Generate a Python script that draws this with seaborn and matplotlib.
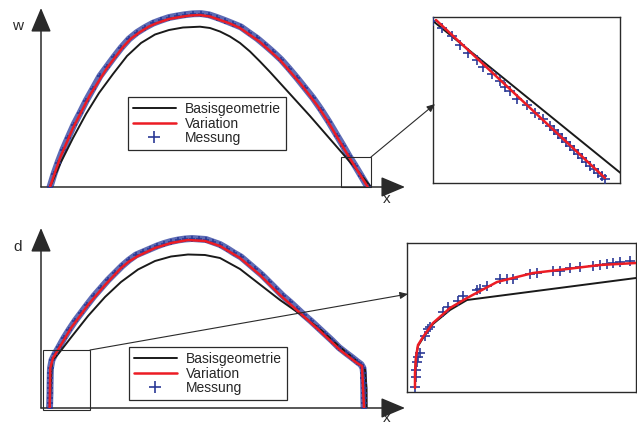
import matplotlib
matplotlib.use("Agg")
import matplotlib.pyplot as plt
from matplotlib.lines import Line2D
from matplotlib.patches import Rectangle, FancyArrowPatch
import seaborn as sns

# ---------------- data (arbitrary units) ----------------
# top panel: w(x)
top_base_x = [9, 20, 32, 45, 58, 72, 86, 100, 114, 128, 142, 159, 169, 179, 189, 199, 209, 219,
              229, 239, 249, 259, 269, 279, 289, 299, 309, 319, 330]
top_base_w = [0, 25, 49, 73, 94, 113, 131, 144, 152.5, 157, 159.5, 160.3, 159, 155.5, 150.5, 144,
              135.5, 125.5, 115, 104, 93, 82, 71, 59.5, 48, 36.5, 25, 13.5, 0]

top_var_x = [9, 19, 32, 49, 66, 82, 90, 99, 108, 116, 128, 139, 149, 159, 169, 179, 189, 199, 219,
             239, 259, 276, 286, 308, 326.8]
top_var_w = [0, 29, 59, 92, 119, 140, 148.5, 155, 160.5, 164, 168, 170, 171.5, 172, 170.5, 167,
             163.5, 159, 145, 127, 104, 82, 67, 30, 0]

top_mes_x = [9, 13, 17, 22, 27, 33, 39, 45, 52, 59, 66, 73, 80, 88, 96, 104, 112, 120, 128, 136,
             144, 152, 160, 168, 176, 184, 192, 200, 208, 216, 224, 232, 240, 248, 256, 264, 272,
             280, 288, 296, 302, 308, 314, 320, 326.8]
top_mes_w = [0, 13, 24.5, 37.5, 49, 62.5, 74, 86, 98.5, 111, 120.5, 130, 139, 148, 154.5, 159.5,
             163.8, 166.8, 169.5, 171, 172.3, 173.2, 173.4, 172.2, 169.5, 166.5, 163.3, 160, 154.3,
             148.7, 142, 135, 127.5, 118.5, 109, 99, 89, 77.5, 65, 51.5, 41.5, 31, 21.5, 11.5, 0]

# top detail (inset)
det1_base_x = [0, 190]
det1_base_w = [162, 8]
det1_var_x = [3, 172]
det1_var_w = [163, 5]
det1_mes_x = [0, 9, 19, 27, 35, 44, 50, 59, 67, 72, 77, 84, 94, 102, 110, 117, 121, 125, 129,
              133, 137, 141, 145, 149, 153, 157, 161, 165, 169, 172]
det1_mes_w = [162, 155, 147, 138.5, 130.5, 123.5, 116.5, 109.5, 102.5, 96.5, 92.5, 84.5, 78.5,
              70, 64, 57, 53.5, 49.5, 45.5, 41.5, 37.5, 33.5, 29.5, 25.5, 21.5, 17.5, 14.5, 10.5, 7, 4]

# bottom panel: d(x)
bot_base_x = [8.7, 10, 11, 18, 30, 47, 64, 80, 97, 114, 130, 147, 164, 179, 199, 219, 239, 259,
              279, 299, 316, 324, 325.5, 325.6]
bot_base_d = [0, 28, 47, 55, 70.5, 92, 111, 126, 138.5, 147, 151.5, 153.5, 153, 150, 139, 123.5,
              108, 94, 79, 61, 47, 38.5, 20, 0]

bot_var_x = [8.7, 9.3, 12, 17, 30, 47, 64, 80, 88, 97, 114, 130, 147, 164, 179, 199, 219, 239,
             259, 279, 299, 316, 321, 323]
bot_var_d = [0, 40, 50, 58, 80, 103, 123, 140, 146.5, 152, 160, 165, 168, 167, 162, 150, 133,
             113, 95, 77, 58, 45, 42, 0]

bot_mes_x = [8.5, 8.7, 8.8, 9, 9, 9.1, 9.2, 9.3, 9.5, 11, 14, 18, 23, 28, 34, 40, 46, 53, 60, 67,
             74, 81, 88, 95, 102, 109, 116, 123, 130, 137, 144, 151, 158, 165, 172, 179, 186, 193,
             200, 207, 214, 221, 228, 235, 242, 249, 256, 263, 270, 277, 284, 291, 298, 305, 311,
             316, 320, 322, 322.5, 322.5, 322.6, 322.7, 322.8, 322.8, 322.9, 323]
bot_mes_d = [0, 5, 10, 15, 20, 25, 30, 35, 40, 48, 54, 61, 70, 78, 87, 95, 103, 112, 120, 128,
             135, 142, 148, 153, 156, 159, 162, 164.5, 166.5, 168, 169, 169.5, 169, 168.5, 166,
             163.5, 159.5, 155, 151, 145, 139, 133, 126, 119, 112, 106, 99.5, 93, 87, 80.5, 74,
             67.5, 60.5, 55, 50.5, 46.5, 43.5, 40, 35, 30, 25, 20, 15, 10, 5, 0]

# bottom detail (inset)
det2_base_x = [8, 8, 9, 11, 16, 26, 43, 60, 229]
det2_base_d = [4, 19, 35, 46, 54, 68, 82, 92, 114]
det2_var_x = [8, 8, 9, 11, 16, 26, 43, 60, 90, 126, 160, 193, 229]
det2_var_d = [4, 19, 35, 47, 55, 69, 84, 94, 110, 119, 123, 127, 129]
det2_mes_x = [8, 8.7, 9, 9.7, 11.3, 13, 18, 21.3, 23, 36.3, 41.3, 51.3, 56.3, 69.7, 73, 79.7, 93,
              99.7, 106.3, 123, 129.7, 146.3, 153, 163, 173, 186.3, 193, 199.7, 206.3, 213, 223]
det2_mes_d = [5.3, 15.3, 22, 30.3, 35.3, 39.5, 56.5, 63, 65, 80, 85, 91.5, 96.5, 102.5, 103, 106.5,
              113, 113, 113.5, 118.5, 119, 121.5, 121.5, 124, 125, 126, 127, 128, 129, 130, 131]

labels = ["Basisgeometrie", "Variation", "Messung"]

# ---------------- style ----------------
sns.set_style("white")
plt.rcParams["font.family"] = ["Liberation Sans", "DejaVu Sans"]

BLACK = "#1a1a1a"
RED = "#ec1c24"
BLUE = "#2b3a96"
BAND = "#4151a8"
AXC = "#2a2a2a"

W, H = 637, 426
fig = plt.figure(figsize=(W / 100, H / 100), dpi=100)
fig.patch.set_facecolor("white")


def rect(x0, y0, x1, y1):
    return [x0 / W, 1 - y1 / H, (x1 - x0) / W, (y1 - y0) / H]


def fpt(px, py):
    return (px / W, 1 - py / H)


def draw_curves(ax, bx, by, vx, vy, mx, my, band, msize):
    if band:
        sns.lineplot(x=mx, y=my, sort=False, estimator=None, ax=ax, color=BAND,
                     lw=5.0, alpha=0.85, legend=False)
    sns.lineplot(x=bx, y=by, sort=False, estimator=None, ax=ax, color=BLACK, lw=1.4, legend=False)
    sns.scatterplot(x=mx, y=my, ax=ax, marker="+", color=BLUE, s=msize ** 2,
                    linewidth=1.2, legend=False, zorder=3)
    sns.lineplot(x=vx, y=vy, sort=False, estimator=None, ax=ax, color=RED, lw=1.8,
                 legend=False, zorder=4)


def main_axes(r, xl, yl):
    ax = fig.add_axes(r)
    ax.set_xlim(*xl)
    ax.set_ylim(*yl)
    for s in ax.spines.values():
        s.set_visible(False)
    ax.set_xticks([])
    ax.set_yticks([])
    ax.patch.set_alpha(0)
    ap = dict(arrowstyle="-|>,head_length=1.0,head_width=0.42", mutation_scale=15,
              color=AXC, lw=1.1, shrinkA=0, shrinkB=0)
    ax.annotate("", xy=(1, 0), xytext=(0, 0), xycoords="axes fraction", arrowprops=ap)
    ax.annotate("", xy=(0, 1), xytext=(0, 0), xycoords="axes fraction", arrowprops=ap)
    return ax


def inset_axes(r, xl, yl):
    ax = fig.add_axes(r)
    ax.set_xlim(*xl)
    ax.set_ylim(*yl)
    ax.set_xticks([])
    ax.set_yticks([])
    for s in ax.spines.values():
        s.set_visible(True)
        s.set_color(AXC)
        s.set_linewidth(1.0)
    return ax


def add_legend(ax, x0, y0):
    handles = [Line2D([0], [0], color=BLACK, lw=1.4),
               Line2D([0], [0], color=RED, lw=1.8),
               Line2D([], [], color=BLUE, marker="+", ls="none", markersize=9, mew=1.2)]
    leg = ax.legend(handles, labels, loc="upper left", bbox_to_anchor=fpt(x0, y0),
                    bbox_transform=fig.transFigure, borderaxespad=0, frameon=True,
                    fancybox=False, edgecolor=AXC, framealpha=1, fontsize=10,
                    handlelength=3.1, handletextpad=0.65, borderpad=0.35, labelspacing=0.05)
    leg.get_frame().set_linewidth(0.9)
    leg.set_zorder(10)


def connector(p0, p1):
    a = FancyArrowPatch(fpt(*p0), fpt(*p1), transform=fig.transFigure,
                        arrowstyle="-|>,head_length=0.8,head_width=0.35", mutation_scale=6,
                        color=AXC, lw=0.8, shrinkA=0, shrinkB=0)
    fig.add_artist(a)


# ---------------- top ----------------
ax1 = main_axes(rect(41, 8, 405, 187), (0, 364), (0, 179))
draw_curves(ax1, top_base_x, top_base_w, top_var_x, top_var_w, top_mes_x, top_mes_w, True, 4.5)
ax1.add_patch(Rectangle((300, 0), 30, 30, fill=False, ec=AXC, lw=0.8, clip_on=False, zorder=5))
add_legend(ax1, 128, 97)
fig.text(*fpt(18, 26), "w", ha="center", va="center", fontsize=11, color=AXC)
fig.text(*fpt(387, 199), "x", ha="center", va="center", fontsize=11, color=AXC)

ax1i = inset_axes(rect(433, 17, 620, 183), (0, 187), (0, 166))
draw_curves(ax1i, det1_base_x, det1_base_w, det1_var_x, det1_var_w, det1_mes_x, det1_mes_w, False, 7)
connector((371, 157), (435, 104))

# ---------------- bottom ----------------
ax2 = main_axes(rect(41, 228, 405, 408), (0, 364), (0, 180))
draw_curves(ax2, bot_base_x, bot_base_d, bot_var_x, bot_var_d, bot_mes_x, bot_mes_d, True, 4.5)
ax2.add_patch(Rectangle((2, -2), 47, 60, fill=False, ec=AXC, lw=0.8, clip_on=False, zorder=5))
add_legend(ax2, 129, 347)
fig.text(*fpt(18, 247), "d", ha="center", va="center", fontsize=11, color=AXC)
fig.text(*fpt(387, 418), "x", ha="center", va="center", fontsize=11, color=AXC)

ax2i = inset_axes(rect(407, 243, 636, 392), (0, 229), (0, 149))
draw_curves(ax2i, det2_base_x, det2_base_d, det2_var_x, det2_var_d, det2_mes_x, det2_mes_d, False, 7)
connector((90, 350), (408, 294))

fig.savefig("out.png", dpi=100)
